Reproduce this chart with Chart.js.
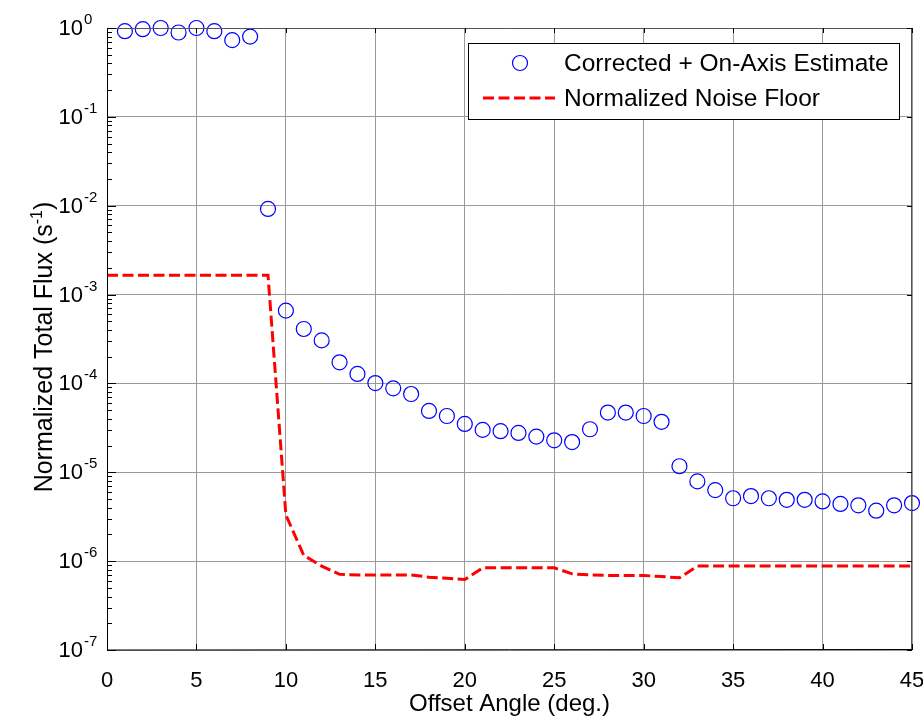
<!DOCTYPE html>
<html>
<head>
<meta charset="utf-8">
<script src="https://cdn.jsdelivr.net/npm/chart.js@4"></script>
<style>
  body { margin: 0; background: #fff; }
</style>
</head>
<body>
<canvas id="chart" width="923" height="719"></canvas>
<script>
// offset angle (deg.) for the corrected flux points
const angles = [1, 2, 3, 4, 5, 6, 7, 8, 9, 10, 11, 12, 13, 14, 15, 16, 17, 18, 19, 20,
  21, 22, 23, 24, 25, 26, 27, 28, 29, 30, 31, 32, 33, 34, 35, 36, 37, 38, 39, 40,
  41, 42, 43, 44, 45];
const correctedFlux = [0.92, 0.97, 1.0, 0.89, 1.0, 0.92, 0.73, 0.80, 0.0092, 6.6e-4,
  4.1e-4, 3.05e-4, 1.73e-4, 1.28e-4, 1.01e-4, 8.8e-5, 7.6e-5, 4.9e-5, 4.3e-5, 3.5e-5,
  3.0e-5, 2.9e-5, 2.77e-5, 2.52e-5, 2.29e-5, 2.19e-5, 3.05e-5, 4.7e-5, 4.7e-5, 4.3e-5,
  3.7e-5, 1.17e-5, 7.9e-6, 6.3e-6, 5.1e-6, 5.4e-6, 5.1e-6, 4.9e-6, 4.9e-6, 4.7e-6,
  4.4e-6, 4.25e-6, 3.7e-6, 4.25e-6, 4.5e-6];

// noise floor, sampled every degree from 0 to 45
const noiseAngles = [0, 1, 2, 3, 4, 5, 6, 7, 8, 9, 10, 11, 12, 13, 14, 15, 16, 17, 18, 19,
  20, 21, 22, 23, 24, 25, 26, 27, 28, 29, 30, 31, 32, 33, 34, 35, 36, 37, 38, 39, 40,
  41, 42, 43, 44, 45];
const noiseFloor = [1.65e-3, 1.65e-3, 1.65e-3, 1.65e-3, 1.65e-3, 1.65e-3, 1.65e-3, 1.65e-3,
  1.65e-3, 1.65e-3, 3.3e-6, 1.16e-6, 8.8e-7, 7.1e-7, 7.0e-7, 7.0e-7, 7.0e-7, 7.0e-7,
  6.6e-7, 6.4e-7, 6.2e-7, 8.4e-7, 8.4e-7, 8.4e-7, 8.4e-7, 8.4e-7, 7.2e-7, 7.0e-7,
  6.9e-7, 6.9e-7, 6.9e-7, 6.7e-7, 6.5e-7, 8.8e-7, 8.8e-7, 8.8e-7, 8.8e-7, 8.8e-7,
  8.8e-7, 8.8e-7, 8.8e-7, 8.8e-7, 8.8e-7, 8.8e-7, 8.8e-7, 8.8e-7];

const xTicks = [0, 5, 10, 15, 20, 25, 30, 35, 40, 45];
const yExponents = [0, -1, -2, -3, -4, -5, -6, -7];
const seriesNames = ['Corrected + On-Axis Estimate', 'Normalized Noise Floor'];
const xTitle = 'Offset Angle (deg.)';
const yTitle = 'Normalized Total Flux (s';

const FONT = 'Arial, "Liberation Sans", Helvetica, sans-serif';

function isDecade(v) {
  const l = Math.log10(v);
  return Math.abs(l - Math.round(l)) < 1e-6;
}

// axes box, inward ticks, superscript tick labels, y title and legend
const matlabLook = {
  id: 'matlabLook',
  afterDraw(chart) {
    const ctx = chart.ctx;
    const a = chart.chartArea;
    const xs = chart.scales.x, ys = chart.scales.y;
    ctx.save();

    // box
    ctx.lineWidth = 1;
    ctx.strokeStyle = '#555';
    ctx.beginPath();
    ctx.moveTo(a.left, a.top + 0.5); ctx.lineTo(a.right, a.top + 0.5);
    ctx.moveTo(a.right - 0.5, a.top); ctx.lineTo(a.right - 0.5, a.bottom);
    ctx.stroke();
    ctx.strokeStyle = '#000';
    ctx.beginPath();
    ctx.moveTo(a.left + 0.5, a.top); ctx.lineTo(a.left + 0.5, a.bottom);
    ctx.lineTo(a.right, a.bottom - 0.5);
    ctx.stroke();

    // y ticks (major + minor) on left, major on right
    ctx.beginPath();
    for (let e = 0; e >= -7; e--) {
      for (let m = 1; m <= 9; m++) {
        const v = m * Math.pow(10, e);
        if (v > 1 || v < 1e-7) continue;
        const y = Math.round(ys.getPixelForValue(v)) + 0.5;
        const len = m === 1 ? 9 : 5;
        ctx.moveTo(a.left, y); ctx.lineTo(a.left + len, y);
        if (m === 1) { ctx.moveTo(a.right, y); ctx.lineTo(a.right - 5, y); }
      }
    }
    // x ticks top and bottom
    xTicks.forEach(t => {
      const x = Math.round(xs.getPixelForValue(t)) + 0.5;
      ctx.moveTo(x, a.bottom); ctx.lineTo(x, a.bottom - 6);
      ctx.moveTo(x, a.top); ctx.lineTo(x, a.top + 5);
    });
    ctx.stroke();

    // y tick labels 10^n
    ctx.fillStyle = '#000';
    yExponents.forEach(e => {
      const y = ys.getPixelForValue(Math.pow(10, e));
      ctx.font = '22px ' + FONT;
      ctx.textAlign = 'right';
      ctx.textBaseline = 'middle';
      ctx.fillText('10', a.left - 24, y + 1);
      ctx.font = '15px ' + FONT;
      ctx.textAlign = 'left';
      ctx.textBaseline = 'alphabetic';
      ctx.fillText(String(e), a.left - 23, y - 4);
    });

    // y title with superscript
    ctx.save();
    const midY = (a.top + a.bottom) / 2 + 8;
    ctx.translate(52, midY);
    ctx.rotate(-Math.PI / 2);
    ctx.font = '25px ' + FONT;
    const w1 = ctx.measureText(yTitle).width;
    ctx.font = '16px ' + FONT;
    const w2 = ctx.measureText('-1').width;
    ctx.font = '25px ' + FONT;
    const w3 = ctx.measureText(')').width;
    const total = w1 + w2 + w3;
    let x0 = -total / 2;
    ctx.textAlign = 'left';
    ctx.textBaseline = 'alphabetic';
    ctx.fillText(yTitle, x0, 0);
    ctx.font = '16px ' + FONT;
    ctx.fillText('-1', x0 + w1, -10);
    ctx.font = '25px ' + FONT;
    ctx.fillText(')', x0 + w1 + w2, 0);
    ctx.restore();

    // legend
    const lw = 431, lh = 76;
    const lx = a.right - 13 - lw, ly = a.top + 15;
    ctx.fillStyle = '#fff';
    ctx.fillRect(lx, ly, lw, lh);
    ctx.strokeStyle = '#000';
    ctx.lineWidth = 1;
    ctx.strokeRect(lx + 0.5, ly + 0.5, lw, lh);
    const row1 = ly + 20, row2 = ly + 55;
    ctx.strokeStyle = '#0000ff';
    ctx.lineWidth = 1.2;
    ctx.beginPath();
    ctx.arc(lx + 52, row1, 7.5, 0, Math.PI * 2);
    ctx.stroke();
    ctx.strokeStyle = '#ff0000';
    ctx.lineWidth = 3;
    ctx.setLineDash([11, 4.5]);
    ctx.beginPath();
    ctx.moveTo(lx + 15, row2); ctx.lineTo(lx + 87, row2);
    ctx.stroke();
    ctx.setLineDash([]);
    ctx.fillStyle = '#000';
    ctx.font = '24.5px ' + FONT;
    ctx.textAlign = 'left';
    ctx.textBaseline = 'middle';
    ctx.fillText(seriesNames[0], lx + 96, row1 + 1);
    ctx.fillText(seriesNames[1], lx + 96, row2 + 1);

    ctx.restore();
  }
};

new Chart(document.getElementById('chart'), {
  type: 'scatter',
  data: {
    datasets: [
      {
        label: seriesNames[0],
        data: angles.map((x, i) => ({ x: x, y: correctedFlux[i] })),
        showLine: false,
        pointStyle: 'circle',
        pointRadius: 7.5,
        pointHoverRadius: 7.5,
        borderColor: '#0000ff',
        backgroundColor: 'rgba(0,0,0,0)',
        pointBorderWidth: 1.2,
        clip: false
      },
      {
        label: seriesNames[1],
        data: noiseAngles.map((x, i) => ({ x: x, y: noiseFloor[i] })),
        showLine: true,
        pointRadius: 0,
        borderColor: '#ff0000',
        borderWidth: 3,
        borderDash: [11, 4.5],
        tension: 0
      }
    ]
  },
  options: {
    responsive: false,
    animation: false,
    devicePixelRatio: 1,
    layout: { padding: { left: 0, right: 11, top: 28, bottom: 0 } },
    plugins: {
      legend: { display: false },
      title: { display: false },
      tooltip: { enabled: false }
    },
    scales: {
      x: {
        type: 'linear',
        min: 0,
        max: 45,
        afterBuildTicks: s => { s.ticks = xTicks.map(v => ({ value: v })); },
        afterFit: s => { s.height = 69; s.paddingLeft = 0; s.paddingRight = 0; },
        border: { display: false },
        grid: { color: '#9a9a9a', lineWidth: 1, drawTicks: false },
        ticks: { color: '#000', font: { size: 22, family: FONT }, padding: 18, maxRotation: 0 },
        title: { display: true, text: xTitle, color: '#000', font: { size: 24, family: FONT }, padding: { top: 0, bottom: 0 } }
      },
      y: {
        type: 'logarithmic',
        min: 1e-7,
        max: 1,
        afterFit: s => { s.width = 107; s.paddingTop = 0; s.paddingBottom = 0; },
        border: { display: false },
        grid: {
          drawTicks: false,
          lineWidth: 1,
          color: c => (c.tick && isDecade(c.tick.value)) ? '#9a9a9a' : 'rgba(0,0,0,0)'
        },
        ticks: { display: false }
      }
    }
  },
  plugins: [matlabLook]
});
</script>
</body>
</html>
